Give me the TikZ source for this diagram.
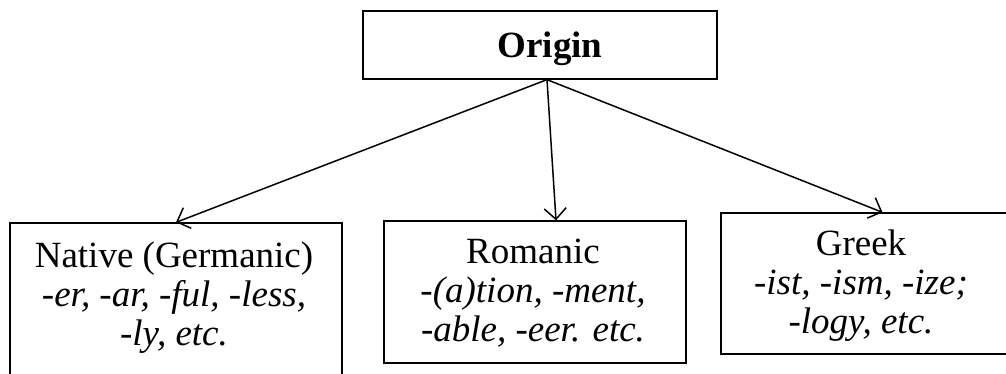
\documentclass[tikz,border=0pt]{standalone}
\usepackage{fontspec}
\setmainfont{Liberation Serif}
\usetikzlibrary{arrows.meta,calc}
\begin{document}
\begin{tikzpicture}[x=1pt,y=1pt,
  box/.style={draw,line width=1.3pt,inner sep=0pt},
  txt/.style={align=center,inner sep=0pt,anchor=base,
    font=\fontsize{37}{39}\selectfont},
  link/.style={line width=1.5pt,
    -{Straight Barb[length=11pt,width=22pt,line width=1.5pt]}}]
\useasboundingbox (0,0) rectangle (1006,374);

% boxes
\node[box,minimum width=354pt,minimum height=68pt] (origin) at (540,329) {};
\node[box,minimum width=332pt,minimum height=172pt] (native) at (176,65) {};
\node[box,minimum width=302pt,minimum height=142pt] (romanic) at (535,82) {};
\node[box,minimum width=291pt,minimum height=141pt] (greek) at (866.5,90.5) {};

% texts (anchored on the baseline of the last line)
\node[txt,font=\fontsize{37}{39}\selectfont\bfseries] (origintxt) at (550,316) {Origin};
\node[txt] (nativetxt) at (174,28) {Native (Germanic)\\\itshape -er, -ar, -ful, -less,\\\itshape -ly, etc.};
\node[txt] (romanictxt) at (533,32) {Romanic\\\itshape -(a)tion, -ment,\\\itshape -able, -eer. etc.};
\node[txt] (greektxt) at (861,40) {Greek\\\itshape -ist, -ism, -ize;\\\itshape -logy, etc.};

% connectors
\coordinate (fork) at ($(origin.south)+(7,0)$);
\draw[link] (fork) -- (native.north);
\draw[link] (fork) -- ($(romanic.north)+(21,0)$);
\draw[link] (fork) -- ($(greek.north)+(16,0)$);
\end{tikzpicture}
\end{document}
